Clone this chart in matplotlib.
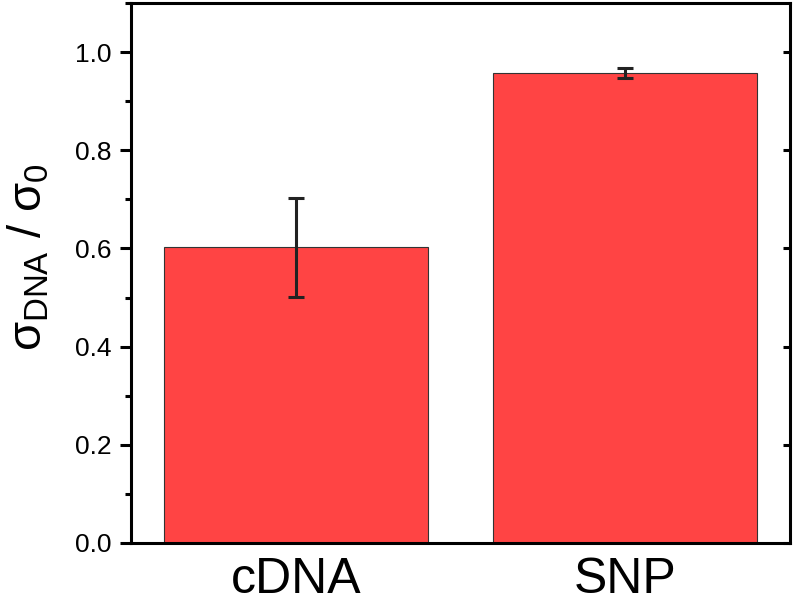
import matplotlib
matplotlib.use("Agg")
from matplotlib import pyplot as plt
from matplotlib.ticker import MultipleLocator, FormatStrFormatter

categories = ["cDNA", "SNP"]
values = [0.602, 0.958]
errors = [0.10, 0.01]

plt.rcParams['font.family'] = ['Liberation Sans', 'DejaVu Sans']
plt.rcParams['mathtext.fontset'] = 'custom'
plt.rcParams['mathtext.rm'] = 'Liberation Sans'
plt.rcParams['mathtext.it'] = 'Liberation Sans'

fig = plt.figure(figsize=(7.96, 6.07), dpi=100)
ax = fig.add_axes([131/796, 1 - 543/607, (790-131)/796, (543-3)/607])

pos = [1, 2]
ax.bar(pos, values, width=0.8, color='#ff4444', edgecolor='#333333', linewidth=0.8, zorder=2)
ax.errorbar(pos, values, yerr=errors, fmt='none', ecolor='#222222', elinewidth=2.2,
            capsize=6, capthick=2.2, zorder=3)

ax.set_xlim(0.5, 2.5)
ax.set_ylim(0, 1.1)
ax.set_xticks(pos)
ax.set_xticklabels(categories, fontsize=36)
ax.yaxis.set_major_locator(MultipleLocator(0.2))
ax.yaxis.set_minor_locator(MultipleLocator(0.1))
ax.yaxis.set_major_formatter(FormatStrFormatter('%.1f'))
ax.tick_params(axis='y', which='major', direction='out', length=8, width=2.2, labelsize=19, pad=6)
ax.tick_params(axis='y', which='minor', direction='out', length=4, width=2.2)
ax.tick_params(axis='x', length=0, pad=10)

for s in ax.spines.values():
    s.set_linewidth(2.2)

# right side major ticks pointing inward
sec = ax.secondary_yaxis('right')
sec.yaxis.set_major_locator(MultipleLocator(0.2))
sec.tick_params(direction='in', length=5, width=2.2, labelright=False)
sec.yaxis.set_minor_locator(MultipleLocator(0.1))
sec.tick_params(which='minor', length=0)

ax.set_ylabel(r'$\sigma_{\mathrm{DNA}}\ /\ \sigma_0$', fontsize=34)
ax.yaxis.set_label_coords(-0.12, 0.53)

fig.savefig('out.png', dpi=100)
